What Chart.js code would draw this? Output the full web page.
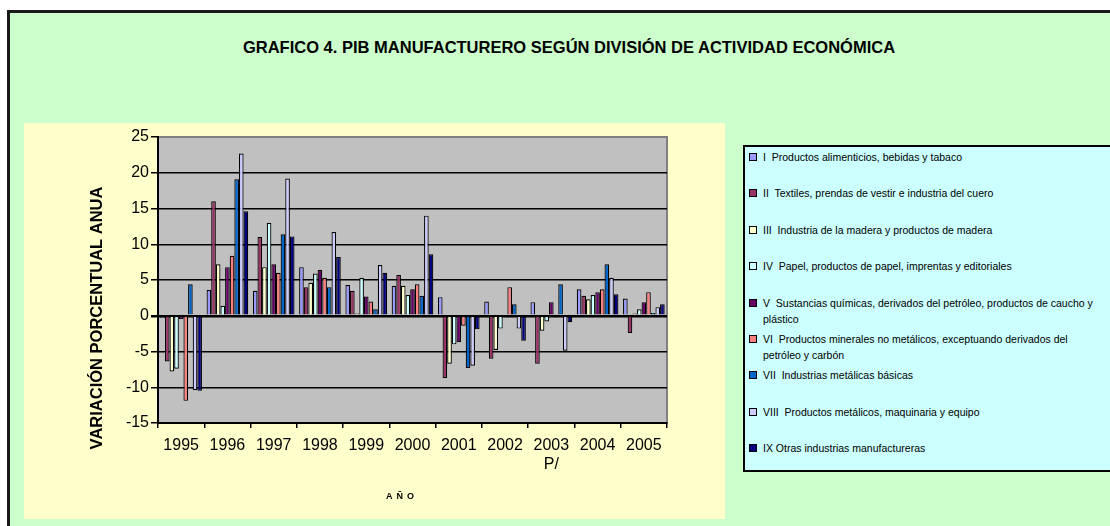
<!DOCTYPE html>
<html>
<head>
<meta charset="utf-8">
<script src="https://cdn.jsdelivr.net/npm/chart.js@4"></script>
<style>
    body { margin: 0; width: 1110px; height: 526px; overflow: hidden; background: #fff; position: relative;
           font-family: "Liberation Sans", Arial, sans-serif; }
    #frame { position: absolute; left: 7px; top: 10px; width: 1120px; height: 540px;
             background: #CCFFCC; border-left: 3px solid #1a1a1a; border-top: 3px solid #1a1a1a; }
    #title { position: absolute; left: 569px; top: 38px; transform: translateX(-50%); white-space: nowrap;
             font-weight: bold; font-size: 16.5px; line-height: 18px; color: #000; }
    #panel { position: absolute; left: 24px; top: 123px; width: 701px; height: 396px; background: #FFFFCC; }
    #legend { position: absolute; left: 743px; top: 145px; width: 400px; height: 321px;
              background: #CCFFFF; border: 2px solid #000; padding-top: 2px; }
    .item { position: relative; height: 36.4px; }
    .item .mark { position: absolute; left: 4px; top: 4px; width: 6px; height: 6px; border: 1.5px solid #000; }
    .item .txt { position: absolute; left: 18px; top: 0; width: 342px; font-size: 10.5px; line-height: 16px;
                 white-space: pre-wrap; color: #000; }
</style>
</head>
<body>
<div id="frame"></div>
<div id="title">GRAFICO 4. PIB MANUFACTURERO SEGÚN DIVISIÓN DE ACTIVIDAD ECONÓMICA</div>
<div id="panel"><canvas id="chart" width="701" height="396"></canvas></div>
<div id="legend"></div>
<script>
// Data (variación porcentual anual)
const years = ['1995', '1996', '1997', '1998', '1999', '2000', '2001', '2002', ['2003', 'P/'], '2004', '2005'];

const alimenticios = [-0.3, 3.6, 3.5, 6.8, 4.3, 4.2, 2.6, 2.0, 1.9, 3.7, 2.4];
const textiles     = [-6.4, 16.0, 11.0, 4.0, 3.5, 5.7, -8.7, -6.0, -6.7, 2.8, -2.4];
const madera       = [-7.8, 7.2, 6.8, 4.6, 0.3, 4.2, -6.7, -4.8, -2.1, 2.3, 0.3];
const papel        = [-7.4, 1.4, 13.0, 5.9, 5.3, 2.9, -4.0, -1.8, -0.8, 2.9, 0.9];
const quimicas     = [-0.5, 6.8, 7.2, 6.4, 2.7, 3.7, -3.7, -0.2, 1.9, 3.3, 1.9];
const minerales    = [-11.9, 8.4, 6.0, 5.3, 2.0, 4.4, -1.4, 4.0, 0.2, 3.7, 3.3];
const basicas      = [4.4, 19.1, 11.4, 4.0, 0.9, 2.8, -7.3, 1.6, 4.4, 7.2, 0.4];
const maquinaria   = [-10.4, 22.7, 19.2, 11.7, 7.1, 14.0, -7.0, -1.8, -4.9, 5.3, 1.2];
const otras        = [-10.5, 14.6, 11.1, 8.2, 6.0, 8.6, -1.9, -3.5, -0.9, 3.0, 1.6];

const seriesNames = [
    'I  Productos alimenticios, bebidas y tabaco',
    'II  Textiles, prendas de vestir e industria del cuero',
    'III  Industria de la madera y productos de madera',
    'IV  Papel, productos de papel, imprentas y editoriales',
    'V  Sustancias químicas, derivados del petróleo, productos de caucho y plástico',
    'VI  Productos minerales no metálicos, exceptuando derivados del petróleo y carbón',
    'VII  Industrias metálicas básicas',
    'VIII  Productos metálicos, maquinaria y equipo',
    'IX Otras industrias manufactureras'
];
const seriesValues = [alimenticios, textiles, madera, papel, quimicas, minerales, basicas, maquinaria, otras];
const seriesColors = ['#9999FF', '#993366', '#FFFFCC', '#CCFFFF', '#660066', '#FF8080', '#0066CC', '#CCCCFF', '#000080'];

const yTitle = 'VARIACIÓN PORCENTUAL ANUA';
const xTitle = 'AÑO';
const fontFamily = '"Liberation Sans", Arial, sans-serif';

// gray plot area
const plotBackground = {
    id: 'plotBackground',
    beforeDraw(chart) {
        const { ctx, chartArea: a } = chart;
        ctx.save();
        ctx.fillStyle = '#C0C0C0';
        ctx.fillRect(a.left, a.top, a.width, a.height);
        ctx.strokeStyle = '#808080';
        ctx.lineWidth = 2;
        ctx.strokeRect(a.left, a.top, a.width, a.height);
        ctx.restore();
    }
};

// axis titles placed like the original sheet
const axisTitles = {
    id: 'axisTitles',
    afterDraw(chart) {
        const ctx = chart.ctx;
        ctx.save();
        ctx.fillStyle = '#000';
        ctx.textAlign = 'center';
        ctx.textBaseline = 'middle';
        ctx.font = 'bold 16.5px ' + fontFamily;
        ctx.translate(73, 195);
        ctx.rotate(-Math.PI / 2);
        ctx.fillText(yTitle, 0, 0);
        ctx.restore();

        ctx.save();
        ctx.fillStyle = '#000';
        ctx.textAlign = 'center';
        ctx.textBaseline = 'middle';
        ctx.font = 'bold 9px ' + fontFamily;
        ctx.letterSpacing = '4px';
        ctx.fillText(xTitle, 378, 374);
        ctx.restore();
    }
};

const ctx = document.getElementById('chart').getContext('2d');
new Chart(ctx, {
    type: 'bar',
    data: {
        labels: years,
        datasets: seriesValues.map((values, i) => ({
            label: seriesNames[i],
            data: values,
            backgroundColor: seriesColors[i],
            borderColor: '#000',
            borderWidth: 1.2,
            categoryPercentage: 0.9,
            barPercentage: 1.0
        }))
    },
    options: {
        responsive: false,
        animation: false,
        layout: { padding: { top: 14, right: 58, left: 0, bottom: 0 } },
        plugins: {
            legend: { display: false },
            tooltip: { enabled: false }
        },
        scales: {
            x: {
                grid: { display: true, drawOnChartArea: false, offset: true, color: '#000', tickLength: 5, lineWidth: 1.5 },
                border: { color: '#000', width: 2 },
                ticks: { color: '#000', font: { family: fontFamily, size: 16 }, maxRotation: 0, autoSkip: false, padding: 8 },
                afterFit(scale) { scale.height = 96; }
            },
            y: {
                min: -15,
                max: 25,
                ticks: { stepSize: 5, color: '#000', font: { family: fontFamily, size: 16 }, padding: 2 },
                grid: {
                    color: c => c.tick.value === 25 ? '#808080' : '#000',
                    tickColor: '#000',
                    lineWidth: c => c.tick.value === 0 ? 2.5 : 1.5,
                    tickLength: 7
                },
                border: { color: '#000', width: 2 },
                afterFit(scale) { scale.width = 134; }
            }
        }
    },
    plugins: [plotBackground, axisTitles]
});

// legend box
const legend = document.getElementById('legend');
seriesNames.forEach((name, i) => {
    const item = document.createElement('div');
    item.className = 'item';
    item.innerHTML = '<span class="mark" style="background:' + seriesColors[i] + '"></span><span class="txt"></span>';
    item.querySelector('.txt').textContent = name;
    legend.appendChild(item);
});
</script>
</body>
</html>
